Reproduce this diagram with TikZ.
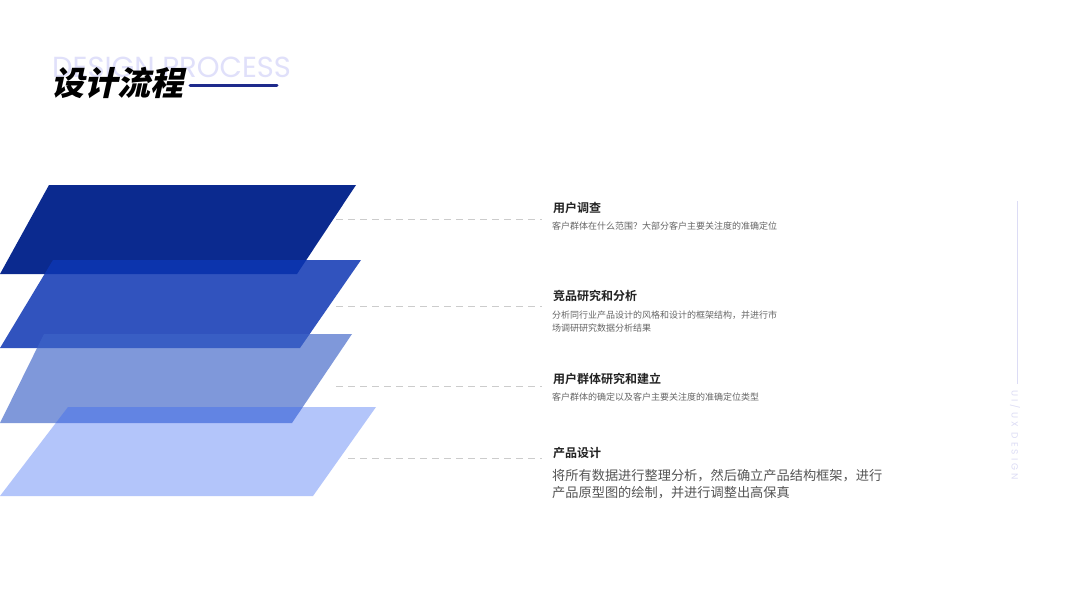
\documentclass[tikz,border=0pt]{standalone}
\usepackage{fontspec}
\setmainfont{Noto Sans CJK SC}
\newfontfamily\cjkreg{Noto Sans CJK SC}
\newfontfamily\cjkbold{Noto Sans CJK SC Bold}
\newfontfamily\cjkblack[FakeSlant=0.22]{Noto Sans CJK SC Black}
\newfontfamily\poplight{Poppins}
\newfontfamily\popspaced[LetterSpace=35]{Poppins}
\definecolor{navy}{HTML}{0B2A8F}
\definecolor{ptwo}{HTML}{0D36B3}
\definecolor{pthree}{HTML}{3E64C8}
\definecolor{pfour}{HTML}{3262F4}
\definecolor{lav}{HTML}{E0E0FA}
\definecolor{lavline}{HTML}{DCDCF5}
\definecolor{ttl}{HTML}{222222}
\definecolor{dsc}{HTML}{666666}
\definecolor{dsc2}{HTML}{555555}
\definecolor{dashgray}{HTML}{CCCCCC}
\definecolor{underl}{HTML}{1E2A8C}
\begin{document}
\begin{tikzpicture}[x=1pt,y=-1pt,
  itemtitle/.style={anchor=base west,inner sep=0pt,text=ttl,font=\cjkbold\fontsize{12}{14}\selectfont},
  itemdesc/.style={anchor=base west,inner sep=0pt,text=dsc,font=\cjkreg\fontsize{9}{13}\selectfont},
  itemdescbig/.style={anchor=base west,inner sep=0pt,text=dsc2,font=\cjkreg\fontsize{13.2}{17}\selectfont},
  leader/.style={draw=dashgray,line width=0.8pt,dash pattern=on 7pt off 5pt}]
\useasboundingbox (0,0) rectangle (1067,600);
\fill[white] (0,0) rectangle (1067,600);

% header
\node[anchor=base west,inner sep=0pt,text=lav] (bgtitle) at (52,77)
  {\poplight\fontsize{29}{29}\selectfont DESIGN PROCESS};
\node[anchor=base west,inner sep=0pt,text=black] (title) at (51,95)
  {\cjkblack\fontsize{33}{33}\selectfont 设计流程};
\coordinate (ulA) at (190,85);
\coordinate (ulB) at (277,85);
\draw[underl,line width=3pt,line cap=round] (ulA) -- (ulB);

% layers
\fill[navy] (49,185) -- (356,185) -- (297,274) -- (0,274) -- cycle;
\fill[ptwo,fill opacity=0.85] (53,260) -- (361,260) -- (300,348) -- (0,348) -- cycle;
\fill[pthree,fill opacity=0.66] (44,334) -- (352,334) -- (292,423) -- (0,423) -- cycle;
\fill[pfour,fill opacity=0.37] (68,407) -- (376,407) -- (313,496) -- (0,496) -- cycle;

% leaders
\coordinate (l1a) at (336,219); \coordinate (l1b) at (542,219);
\coordinate (l2a) at (336,306); \coordinate (l2b) at (542,306);
\coordinate (l3a) at (336,386); \coordinate (l3b) at (542,386);
\coordinate (l4a) at (348,458); \coordinate (l4b) at (542,458);
\draw[leader] (l1a) -- (l1b);
\draw[leader] (l2a) -- (l2b);
\draw[leader] (l3a) -- (l3b);
\draw[leader] (l4a) -- (l4b);

% texts
\node[itemtitle] (t1) at (553,212) {用户调查};
\node[itemdesc] (d1) at (552,229) {客户群体在什么范围？大部分客户主要关注度的准确定位};
\node[itemtitle] (t2) at (553,300.5) {竞品研究和分析};
\node[itemdesc] (d2a) at (552,318.5) {分析同行业产品设计的风格和设计的框架结构，并进行市};
\node[itemdesc] (d2b) at (552,331.5) {场调研研究数据分析结果};
\node[itemtitle] (t3) at (553,383.5) {用户群体研究和建立};
\node[itemdesc] (d3) at (552,400.5) {客户群体的确定以及客户主要关注度的准确定位类型};
\node[itemtitle] (t4) at (553,457) {产品设计};
\node[itemdescbig] (d4a) at (552,480.5) {将所有数据进行整理分析，然后确立产品结构框架，进行};
\node[itemdescbig] (d4b) at (552,497.5) {产品原型图的绘制，并进行调整出高保真};

% right side
\coordinate (vA) at (1017.5,201);
\coordinate (vB) at (1017.5,384);
\draw[lavline,line width=1pt] (vA) -- (vB);
\node[rotate=-90,anchor=west,inner sep=0pt,text=lavline] (uiux) at (1015,390)
  {\popspaced\fontsize{9}{9}\selectfont UI/UX DESIGN};
\end{tikzpicture}
\end{document}
